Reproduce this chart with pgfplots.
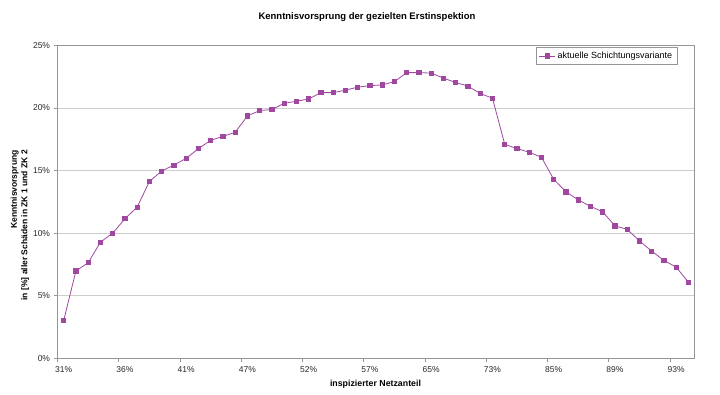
\documentclass[border=0pt]{standalone}
\usepackage{fontspec}
\setmainfont{Liberation Sans}
\usepackage{pgfplots}
\pgfplotsset{compat=1.18}
\definecolor{ser}{RGB}{160,72,160}
\definecolor{gridc}{RGB}{205,205,205}
\definecolor{axc}{RGB}{150,150,150}
\definecolor{txt}{RGB}{40,40,40}
\begin{document}
\begin{tikzpicture}[x=1pt,y=1pt]
\useasboundingbox (0,0) rectangle (720,394);
\begin{axis}[
  name=ax,
  at={(47,28.5)}, anchor=south west, scale only axis,
  width=637pt, height=313pt,
  xmin=-0.5, xmax=51.5, ymin=0, ymax=25,
  xtick={0,5,...,50},
  xticklabels={31\%,36\%,41\%,47\%,52\%,57\%,65\%,73\%,85\%,89\%,93\%},
  major x tick style={draw=none},
  minor xtick={-0.5,4.5,...,49.5},
  minor tick length=4pt, major tick length=4pt,
  tick align=outside,
  ytick={0,5,...,25},
  yticklabel={\pgfmathprintnumber{\tick}\%},
  /pgf/number format/assume math mode=true,
  ymajorgrids, grid style={gridc, line width=0.8pt},
  axis line style={axc, line width=0.9pt},
  tick style={axc, line width=0.8pt},
  xtick pos=bottom, ytick pos=left,
  ticklabel style={font=\fontsize{8.5}{10}\selectfont, text=txt},
  xticklabel style={yshift=-1pt},
  legend style={at={(0.973,0.994)}, anchor=north east, draw=axc,
    font=\fontsize{9}{11}\selectfont, inner xsep=3pt, inner ysep=2.5pt, row sep=0pt},
  legend cell align=left,
  legend image code/.code={\draw[#1] (0pt,0pt) -- (16pt,0pt); \draw[#1, only marks] plot coordinates {(8pt,0pt)};},
]
\addplot[ser, line width=0.8pt, mark=square*, mark size=2.1pt, mark options={fill=ser, draw=ser}] coordinates {
(0,3.02) (1,6.99) (2,7.63) (3,9.28) (4,10.0) (5,11.15) (6,12.08) (7,14.13) (8,14.96) (9,15.44)
(10,15.97) (11,16.75) (12,17.41) (13,17.73) (14,18.05) (15,19.36) (16,19.79) (17,19.87) (18,20.37) (19,20.53)
(20,20.72) (21,21.22) (22,21.22) (23,21.42) (24,21.66) (25,21.78) (26,21.84) (27,22.10) (28,22.82) (29,22.82)
(30,22.78) (31,22.38) (32,22.03) (33,21.74) (34,21.15) (35,20.78) (36,17.10) (37,16.75) (38,16.46) (39,16.06)
(40,14.30) (41,13.30) (42,12.66) (43,12.14) (44,11.70) (45,10.58) (46,10.30) (47,9.38) (48,8.56) (49,7.82)
(50,7.28) (51,6.08)
};
\addlegendentry{aktuelle Schichtungsvariante}
\end{axis}
\node[font=\bfseries\fontsize{9.5}{11}\selectfont, text=black] at (367,377) {Kenntnisvorsprung der gezielten Erstinspektion};
\node[font=\bfseries\fontsize{8.8}{10}\selectfont, text=black] at (375.5,10) {inspizierter Netzanteil};
\node[font=\bfseries\fontsize{8.5}{10.5}\selectfont, text=black, rotate=90, align=right, anchor=east, inner sep=0pt] at (20,244) {Kenntnisvorsprung\\in [\%] aller Schäden in ZK 1 und ZK 2};
\end{tikzpicture}
\end{document}
